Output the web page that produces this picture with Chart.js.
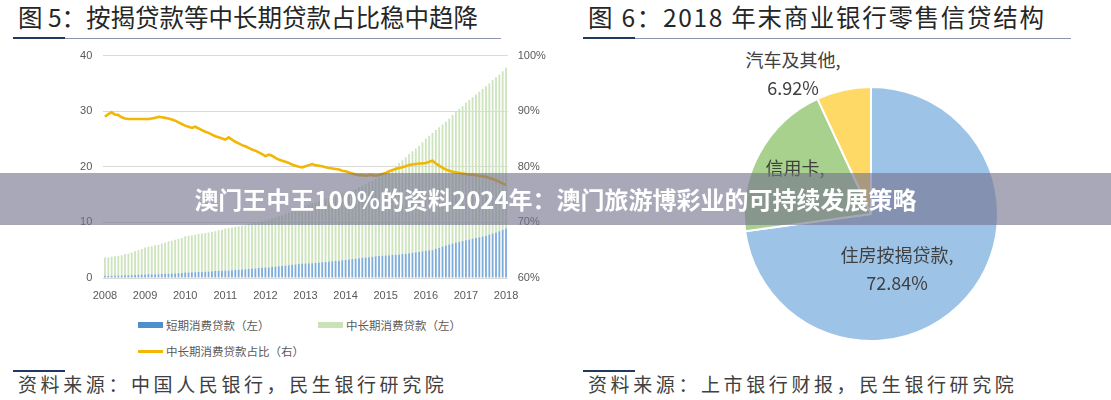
<!DOCTYPE html>
<html>
<head>
<meta charset="utf-8">
<script src="https://cdn.jsdelivr.net/npm/chart.js@4.4.1/dist/chart.umd.min.js"></script>
<style>
  html, body { margin:0; padding:0; background:#fff; }
  body { width:1111px; height:400px; position:relative; overflow:hidden; font-family:"Noto Sans CJK SC","Noto Sans",sans-serif; }
  .abs { position:absolute; }
  .title { font-size:24.5px; color:#262626; line-height:30px; white-space:nowrap; }
  .rule { height:1px; background:#8a98ad; }
  .rule-dark { height:2px; background:#1f3a60; }
  .src { font-size:19px; color:#404040; letter-spacing:3.6px; line-height:24px; white-space:nowrap; }
  .leg { font-size:11.5px; color:#595959; line-height:14px; white-space:nowrap; }
  .sw { position:absolute; width:25px; }
  .plab { font-size:18px; color:#404040; line-height:20px; text-align:center; white-space:nowrap; }
  #banner { left:0; top:173px; width:1111px; height:52px; background:rgba(116,114,142,0.62);
            color:#fff; font-weight:bold; font-size:24px; line-height:52px; text-align:center; white-space:nowrap; }
</style>
</head>
<body>
<script>
// ---------------- DATA ----------------
const years = ['2008','2009','2010','2011','2012','2013','2014','2015','2016','2017','2018'];
// monthly short-term consumer loans (trillion yuan, left axis)
const shortTerm = [0.42,0.40,0.40,0.43,0.44,0.47,0.50,0.51,0.54,0.56,0.59,0.61,0.64,
  0.66,0.66,0.68,0.68,0.71,0.74,0.77,0.79,0.83,0.86,0.91,0.97,
  1.00,1.02,1.02,1.06,1.10,1.13,1.16,1.20,1.24,1.29,1.32,1.37,
  1.35,1.40,1.45,1.50,1.54,1.58,1.64,1.69,1.72,1.79,1.84,1.91,
  1.90,1.96,2.04,2.11,2.17,2.23,2.31,2.39,2.45,2.54,2.59,2.63,
  2.64,2.65,2.72,2.77,2.83,2.90,2.95,3.01,3.06,3.12,3.19,3.25,
  3.32,3.40,3.47,3.55,3.62,3.70,3.75,3.82,3.90,3.95,4.00,4.04,
  4.07,4.12,4.18,4.24,4.32,4.38,4.46,4.54,4.61,4.69,4.81,4.92,
  4.97,5.01,5.24,5.45,5.66,5.84,6.03,6.21,6.37,6.51,6.64,6.80,
  6.94,7.05,7.19,7.34,7.48,7.62,7.81,8.01,8.19,8.42,8.67,8.92];
// monthly mid/long-term consumer loans (trillion yuan, left axis, stacked)
const longTerm = [3.28,3.30,3.40,3.47,3.56,3.63,3.80,3.89,4.06,4.24,4.41,4.59,4.86,
  4.94,5.04,5.22,5.32,5.49,5.66,5.83,5.91,6.07,6.14,6.29,6.53,
  6.60,6.68,6.78,6.84,6.90,6.97,7.04,7.10,7.16,7.31,7.38,7.53,
  7.65,7.70,7.75,7.80,7.86,7.92,8.06,8.11,8.18,8.31,8.36,8.49,
  8.60,8.74,8.86,8.99,9.13,9.27,9.49,9.61,9.75,9.96,10.11,10.37,
  10.56,10.75,10.88,11.03,11.17,11.30,11.45,11.59,11.74,11.88,12.01,12.15,
  12.28,12.40,12.53,12.75,12.98,13.20,13.45,13.68,13.90,14.15,14.50,14.86,
  15.23,15.58,16.02,16.46,16.88,17.32,17.84,18.26,18.69,19.11,19.59,20.18,
  20.63,21.09,21.36,21.65,21.94,22.26,22.67,23.09,23.53,23.89,24.26,24.70,
  25.06,25.45,25.81,26.16,26.52,26.88,27.19,27.59,27.91,28.18,28.53,28.88];
// monthly share of mid/long-term consumer loans (%, right axis)
const ratio = [89.0,89.5,89.8,89.4,89.3,88.9,88.7,88.6,88.6,88.6,88.6,88.6,88.6,
  88.6,88.7,88.8,89.0,88.9,88.8,88.7,88.5,88.3,88.0,87.7,87.4,
  87.2,87.0,87.2,86.9,86.6,86.3,86.1,85.8,85.5,85.3,85.1,84.9,
  85.3,84.9,84.5,84.2,83.9,83.7,83.4,83.1,82.9,82.6,82.3,81.9,
  82.2,82.0,81.6,81.3,81.1,80.9,80.7,80.4,80.2,80.0,79.9,80.1,
  80.3,80.5,80.3,80.2,80.1,79.9,79.8,79.7,79.6,79.5,79.3,79.2,
  79.0,78.8,78.6,78.5,78.5,78.4,78.5,78.5,78.4,78.5,78.7,78.9,
  79.2,79.4,79.6,79.8,79.9,80.1,80.3,80.4,80.5,80.6,80.6,80.7,
  80.9,81.1,80.6,80.2,79.8,79.5,79.3,79.1,79.0,78.9,78.8,78.7,
  78.6,78.6,78.5,78.4,78.3,78.2,78.0,77.8,77.6,77.3,77.0,76.7];
const leftTicks = [0,10,20,30,40];
const rightTicks = [60,70,80,90,100];
const seriesNames = ['短期消费贷款（左）','中长期消费贷款（左）','中长期消费贷款占比（右）'];

const pieLabels = ['住房按揭贷款','信用卡','汽车及其他'];
const pieValues = [72.84, 20.24, 6.92];
</script>

<div class="abs title" style="left:18px;top:2px;">图 5：按揭贷款等中长期贷款占比稳中趋降</div>
<div class="abs rule" style="left:13px;top:38px;width:488px;"></div>
<div class="abs rule-dark" style="left:13px;top:37px;width:52px;"></div>

<div class="abs title" style="left:588px;top:2px;letter-spacing:1.7px;">图 6：2018 年末商业银行零售信贷结构</div>
<div class="abs rule" style="left:583px;top:38px;width:488px;"></div>
<div class="abs rule-dark" style="left:583px;top:37px;width:52px;"></div>

<div class="abs" style="left:60px;top:38px;width:500px;height:272px;"><canvas id="c1" width="500" height="272"></canvas></div>

<div class="abs leg" style="left:138px;top:318px;">
  <div class="sw" style="left:0;top:4px;height:6px;background:#4f8fce;"></div>
  <span style="position:absolute;left:28px;top:0;" id="l0"></span>
  <div class="sw" style="left:180px;top:4px;height:6px;background:#c9e2b6;"></div>
  <span style="position:absolute;left:208px;top:0;" id="l1"></span>
</div>
<div class="abs leg" style="left:138px;top:344px;">
  <div class="sw" style="left:0;top:6px;height:3px;background:#f2b705;"></div>
  <span style="position:absolute;left:28px;top:0;" id="l2"></span>
</div>

<div class="abs" style="left:743px;top:86px;width:256px;height:256px;"><canvas id="c2" width="256" height="256"></canvas></div>

<div class="abs plab" style="left:733px;top:49px;width:120px;" id="p2a"></div>
<div class="abs plab" style="left:733px;top:77px;width:120px;" id="p2b"></div>
<div class="abs plab" style="left:735px;top:157px;width:120px;" id="p1a"></div>
<div class="abs plab" style="left:827px;top:244px;width:140px;" id="p0a"></div>
<div class="abs plab" style="left:827px;top:272px;width:140px;" id="p0b"></div>

<div class="abs rule-dark" style="left:13px;top:370px;width:52px;"></div>
<div class="abs src" style="left:18px;top:372px;">资料来源：中国人民银行，民生银行研究院</div>
<div class="abs rule-dark" style="left:583px;top:370px;width:52px;"></div>
<div class="abs src" style="left:588px;top:372px;">资料来源：上市银行财报，民生银行研究院</div>

<div class="abs" id="banner">澳门王中王100%的资料2024年：澳门旅游博彩业的可持续发展策略</div>

<script>
document.getElementById('l0').textContent = seriesNames[0];
document.getElementById('l1').textContent = seriesNames[1];
document.getElementById('l2').textContent = seriesNames[2];
document.getElementById('p2a').textContent = pieLabels[2] + ',';
document.getElementById('p2b').textContent = pieValues[2].toFixed(2) + '%';
document.getElementById('p1a').textContent = pieLabels[1] + ',';
document.getElementById('p0a').textContent = pieLabels[0] + ',';
document.getElementById('p0b').textContent = pieValues[0].toFixed(2) + '%';

const categories = [];
for (let i = 0; i < shortTerm.length; i++) {
  categories.push(years[Math.floor(i / 12)] + '-' + String(i % 12 + 1).padStart(2, '0'));
}
const tickFont = { family: "'Liberation Sans','Noto Sans CJK SC',sans-serif", size: 11 };

new Chart(document.getElementById('c1'), {
  data: {
    labels: categories,
    datasets: [
      { type:'bar', label: seriesNames[0], data: shortTerm, backgroundColor:'#7fadda', yAxisID:'y',
        stack:'s', barPercentage:0.55, categoryPercentage:1.0, order:1 },
      { type:'bar', label: seriesNames[1], data: longTerm, backgroundColor:'#cde4bd', yAxisID:'y',
        stack:'s', barPercentage:0.55, categoryPercentage:1.0, order:1 },
      { type:'line', label: seriesNames[2], data: ratio, borderColor:'#f2b705', borderWidth:2.6,
        pointRadius:0, tension:0, yAxisID:'y1', order:0, fill:false }
    ]
  },
  options: {
    responsive:false, animation:false, devicePixelRatio:1,
    layout:{ padding:{ top:10, left:0, right:0, bottom:0 } },
    plugins:{ legend:{ display:false }, tooltip:{ enabled:false } },
    scales:{
      x:{ stacked:true, offset:true,
          grid:{ display:false, drawTicks:false }, border:{ display:false },
          ticks:{ autoSkip:false, maxRotation:0, minRotation:0, padding:11, color:'#595959', font:tickFont,
                  callback:(v, i) => (i % 12 === 0 ? years[i / 12] : null) },
          afterFit:(s) => { s.height = 32; } },
      y:{ stacked:true, min:leftTicks[0], max:leftTicks[leftTicks.length-1],
          afterBuildTicks:(s) => { s.ticks = leftTicks.map(v => ({ value:v })); },
          grid:{ color:'#d9d9d9', drawTicks:false, lineWidth:1 }, border:{ display:false },
          ticks:{ padding:11, color:'#595959', font:tickFont },
          afterFit:(s) => { s.width = 43.3; } },
      y1:{ position:'right', min:rightTicks[0], max:rightTicks[rightTicks.length-1],
          afterBuildTicks:(s) => { s.ticks = rightTicks.map(v => ({ value:v })); },
          grid:{ drawOnChartArea:false, drawTicks:false }, border:{ display:false },
          ticks:{ padding:10, color:'#595959', font:tickFont, callback:(v) => v + '%' },
          afterFit:(s) => { s.width = 52.3; } }
    }
  }
});

new Chart(document.getElementById('c2'), {
  type:'pie',
  data:{ labels: pieLabels, datasets:[{ data: pieValues,
    backgroundColor:['#9dc3e6','#a9d18e','#ffd966'], borderColor:'#ffffff', borderWidth:2 }] },
  options:{ responsive:false, animation:false, devicePixelRatio:1,
    layout:{ padding:0 },
    plugins:{ legend:{ display:false }, tooltip:{ enabled:false } } }
});
</script>
</body>
</html>
